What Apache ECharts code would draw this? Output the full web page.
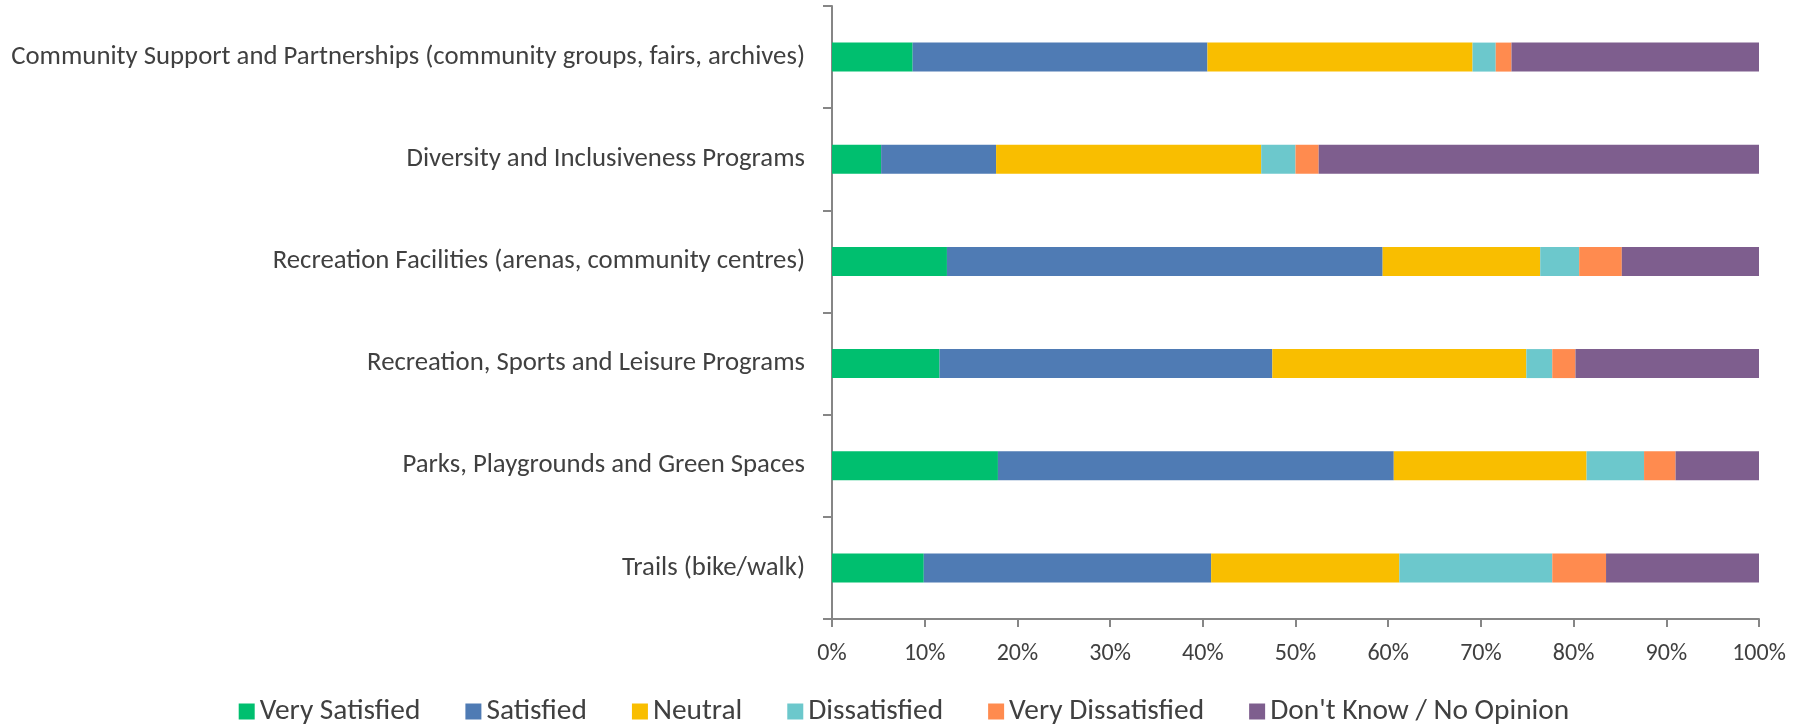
<!DOCTYPE html>
<html>
<head>
<meta charset="utf-8">
<script src="https://cdn.jsdelivr.net/npm/echarts@6/dist/echarts.min.js"></script>
<style>
  html, body { margin: 0; padding: 0; background: #fff; }
  #main { width: 1808px; height: 725px; }
</style>
</head>
<body>
<div id="main"></div>
<script>
// categories, top to bottom as in the picture
var categories = [
  'Community Support and Partnerships (community groups, fairs, archives)',
  'Diversity and Inclusiveness Programs',
  'Recreation Facilities (arenas, community centres)',
  'Recreation, Sports and Leisure Programs',
  'Parks, Playgrounds and Green Spaces',
  'Trails (bike/walk)'
];

// shares in percent, same order as categories
var verySatisfied    = [8.7, 5.3, 12.4, 11.6, 17.9, 9.9];
var satisfied        = [31.8, 12.4, 47.0, 35.9, 42.7, 31.0];
var neutral          = [28.6, 28.6, 17.0, 27.4, 20.8, 20.3];
var dissatisfied     = [2.5, 3.7, 4.2, 2.8, 6.2, 16.5];
var veryDissatisfied = [1.7, 2.5, 4.6, 2.5, 3.4, 5.8];
var dontKnow         = [26.7, 47.5, 14.8, 19.8, 9.0, 16.5];

var seriesNames = ['Very Satisfied', 'Satisfied', 'Neutral', 'Dissatisfied', 'Very Dissatisfied', "Don't Know / No Opinion"];
var seriesData = [verySatisfied, satisfied, neutral, dissatisfied, veryDissatisfied, dontKnow];
var colors = ['#00bf6f', '#4f7bb4', '#f9be00', '#6cc8cc', '#ff8b4f', '#7e5e8e'];

var textColor = '#404040';
var fontFamily = 'Carlito, Lato';

var myChart = echarts.init(document.getElementById('main'));

var series = seriesNames.map(function (name, i) {
  return {
    name: name,
    type: 'bar',
    stack: 'total',
    barWidth: 29,
    itemStyle: { color: colors[i] },
    data: seriesData[i]
  };
});

var option = {
  animation: false,
  color: colors,
  textStyle: { fontFamily: fontFamily },
  grid: {
    left: 832,
    right: 49,
    top: 6,
    bottom: 106
  },
  legend: {
    top: 692,
    left: 'center',
    itemWidth: 16,
    itemHeight: 16,
    itemGap: 45,
    icon: 'rect',
    textStyle: { color: textColor, fontSize: 29.4, fontFamily: fontFamily },
    data: seriesNames
  },
  xAxis: {
    type: 'value',
    min: 0,
    max: 100,
    interval: 10,
    axisLine: { show: true, lineStyle: { color: '#868686', width: 2 } },
    axisTick: { show: true, length: 8, lineStyle: { color: '#868686', width: 2 } },
    splitLine: { show: false },
    axisLabel: {
      color: textColor,
      fontSize: 24,
      margin: 23,
      formatter: '{value}%'
    }
  },
  yAxis: {
    type: 'category',
    inverse: true,
    data: categories,
    axisLine: { show: true, lineStyle: { color: '#868686', width: 2 } },
    axisTick: { show: true, length: 9, lineStyle: { color: '#868686', width: 2 } },
    axisLabel: {
      color: textColor,
      fontSize: 26.75,
      margin: 27
    }
  },
  series: series
};

option && myChart.setOption(option);
</script>
</body>
</html>
